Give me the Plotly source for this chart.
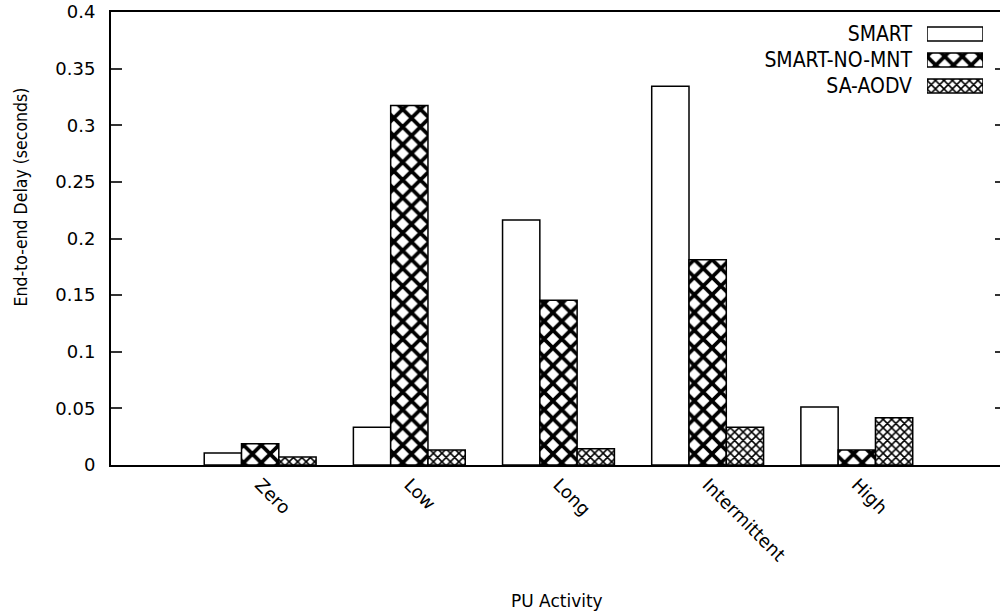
import plotly.graph_objects as go

categories = ["Zero", "Low", "Long", "Intermittent", "High"]
series_names = ["SMART", "SMART-NO-MNT", "SA-AODV"]
smart = [0.0105, 0.0333, 0.2163, 0.3345, 0.0513]
smart_no_mnt = [0.0188, 0.3175, 0.1455, 0.1812, 0.0132]
sa_aodv = [0.0071, 0.0132, 0.0144, 0.0333, 0.0418]
y_ticks = [0, 0.05, 0.1, 0.15, 0.2, 0.25, 0.3, 0.35, 0.4]

values = [smart, smart_no_mnt, sa_aodv]
pat_shape = ["", "x", "x"]
pat_size = [8, 12.5, 6]
pat_solid = [0.3, 0.5, 0.45]

TICKFONT = dict(family="DejaVu Sans", size=18, color="black")
TITLEFONT = dict(family="DejaVu Sans Condensed, DejaVu Sans", size=17.5, color="black")
LEGFONT = dict(family="DejaVu Sans Condensed, DejaVu Sans", size=21, color="black")


def pattern(shape, size, solid):
    return dict(shape=shape, size=size, solidity=solid, fgcolor="black",
                bgcolor="white", fgopacity=1, fillmode="replace")


fig = go.Figure()
for name, vals, sh, sz, so in zip(series_names, values, pat_shape, pat_size, pat_solid):
    fig.add_trace(go.Bar(
        x=categories, y=vals, name=name, showlegend=False,
        marker=dict(color="white", line=dict(color="black", width=1.5),
                    pattern=pattern(sh, sz, so)),
    ))

# legend key drawn as a small bar chart in its own axes
fig.add_trace(go.Bar(
    x=[1] * len(series_names), y=series_names, orientation="h",
    xaxis="x2", yaxis="y2", width=0.54, showlegend=False, hoverinfo="skip",
    marker=dict(color="white", line=dict(color="black", width=1.5),
                pattern=pattern(pat_shape, pat_size, pat_solid)),
))

L, R, T, B = 111, 1000, 12, 465
W, H = 1000, 616
pw, ph = R - L, B - T

fig.update_layout(
    width=W, height=H,
    margin=dict(l=L, r=W - R, t=T, b=H - B, pad=0, autoexpand=False),
    paper_bgcolor="white", plot_bgcolor="white",
    barmode="group", bargap=0.25, bargroupgap=0,
    font=TICKFONT,
    xaxis=dict(type="category", range=[-1, 4.96], showgrid=False, zeroline=False,
               showline=True, linecolor="black", linewidth=2, mirror=True,
               ticks="", tickangle=45, tickfont=TICKFONT, ticklabelstandoff=0,
               automargin=False),
    yaxis=dict(range=[0, 0.4], tickvals=y_ticks, showgrid=False, zeroline=False,
               showline=True, linecolor="black", linewidth=2,
               ticks="inside", ticklen=11, tickwidth=2, tickcolor="#333",
               tickfont=TICKFONT, ticklabelstandoff=10, automargin=False),
    yaxis3=dict(overlaying="y", matches="y", side="right", range=[0, 0.4],
                tickvals=y_ticks, showgrid=False, zeroline=False, showline=False,
                ticks="inside", ticklen=5, tickwidth=2, tickcolor="#333",
                showticklabels=False, automargin=False),
    xaxis2=dict(domain=[(927 - L) / pw, (983 - L) / pw], anchor="y2", range=[0, 1],
                visible=False, fixedrange=True, automargin=False),
    yaxis2=dict(domain=[(B - 99) / ph, (B - 21) / ph], anchor="x2", type="category",
                categoryorder="array", categoryarray=series_names, autorange="reversed",
                showgrid=False, zeroline=False, showline=False, ticks="",
                tickfont=LEGFONT, ticklabelstandoff=14, fixedrange=True,
                automargin=False),
    annotations=[
        dict(text="End-to-end Delay (seconds)", textangle=-90, xref="paper", yref="paper",
             x=(20 - L) / pw, y=(B - 197.5) / ph, xanchor="center", yanchor="middle",
             showarrow=False, font=TITLEFONT),
        dict(text="PU Activity", xref="paper", yref="paper",
             x=(557 - L) / pw, y=(B - 601) / ph, xanchor="center", yanchor="middle",
             showarrow=False, font=dict(family="DejaVu Sans", size=17, color="black")),
    ],
)
# dummy trace to show right-side mirrored ticks
fig.add_trace(go.Scatter(x=[None], y=[None], yaxis="y3", showlegend=False, hoverinfo="skip"))

fig.write_html("out.html", config={"displayModeBar": False},
               post_script="document.body.style.margin='0';document.body.style.overflow='hidden';")
